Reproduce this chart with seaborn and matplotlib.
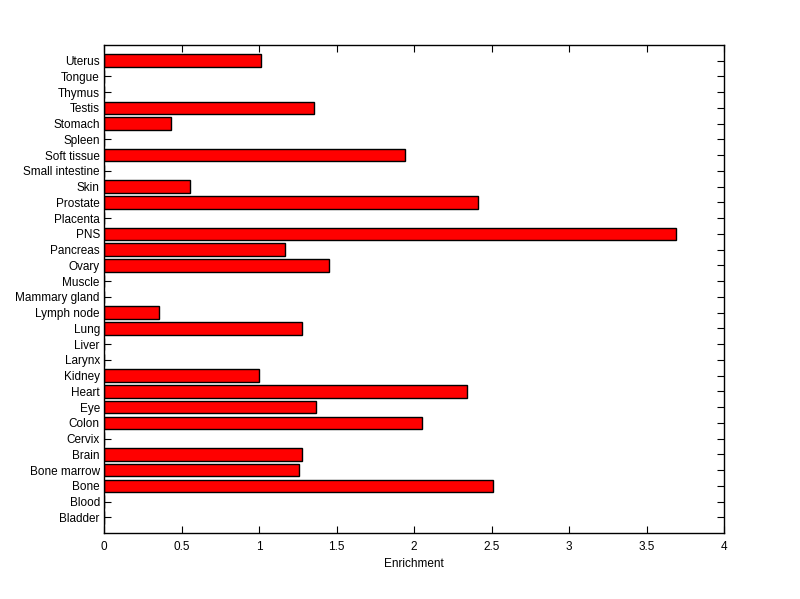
import matplotlib
matplotlib.use("Agg")
import matplotlib.pyplot as plt
import numpy as np
import pandas as pd
import seaborn as sns

# tissues, bottom to top as in the chart
tissues = ['Bladder', 'Blood', 'Bone', 'Bone marrow', 'Brain', 'Cervix', 'Colon',
           'Eye', 'Heart', 'Kidney', 'Larynx', 'Liver', 'Lung', 'Lymph node',
           'Mammary gland', 'Muscle', 'Ovary', 'Pancreas', 'PNS', 'Placenta',
           'Prostate', 'Skin', 'Small intestine', 'Soft tissue', 'Spleen',
           'Stomach', 'Testis', 'Thymus', 'Tongue', 'Uterus']
enrichment = [0, 0, 2.51, 1.26, 1.275, 0, 2.05,
              1.365, 2.345, 0.998, 0, 0, 1.275, 0.355,
              0, 0, 1.45, 1.165, 3.688, 0,
              2.413, 0.557, 0, 1.94, 0,
              0.43, 1.352, 0, 0, 1.015]
xticks = [0, 0.5, 1, 1.5, 2, 2.5, 3, 3.5, 4]
xticklabels = ['0', '0.5', '1', '1.5', '2', '2.5', '3', '3.5', '4']

df = pd.DataFrame({'Tissue': tissues, 'Enrichment': enrichment})

sns.set_theme(style="ticks")
plt.rcParams['font.family'] = ['Liberation Sans', 'DejaVu Sans']

fig = plt.figure(figsize=(8, 5.99), dpi=100)
ax = fig.add_axes([0.13, 0.11, 0.775, 0.815])

# seaborn puts the first category on top, so feed them top to bottom
sns.barplot(data=df, x='Enrichment', y='Tissue', order=tissues[::-1],
            orient='h', color='#ff0000', saturation=1, width=0.8,
            edgecolor='black', linewidth=1, ax=ax)

ax.set_xlim(0, 4)
ax.set_ylim(len(tissues), -1)
ax.set_xticks(xticks)
ax.set_xticklabels(xticklabels)
ax.set_xlabel('Enrichment', fontsize=8.5, labelpad=3, color='black')
ax.set_ylabel('')

for s in ax.spines.values():
    s.set_visible(True)
    s.set_color('black')
    s.set_linewidth(1)
ax.tick_params(direction='in', top=True, right=True, length=5, width=0.8,
               labelsize=8.5, colors='black', pad=3)
ax.tick_params(axis='x', pad=6)

fig.savefig('out.png', dpi=100, facecolor='white')
